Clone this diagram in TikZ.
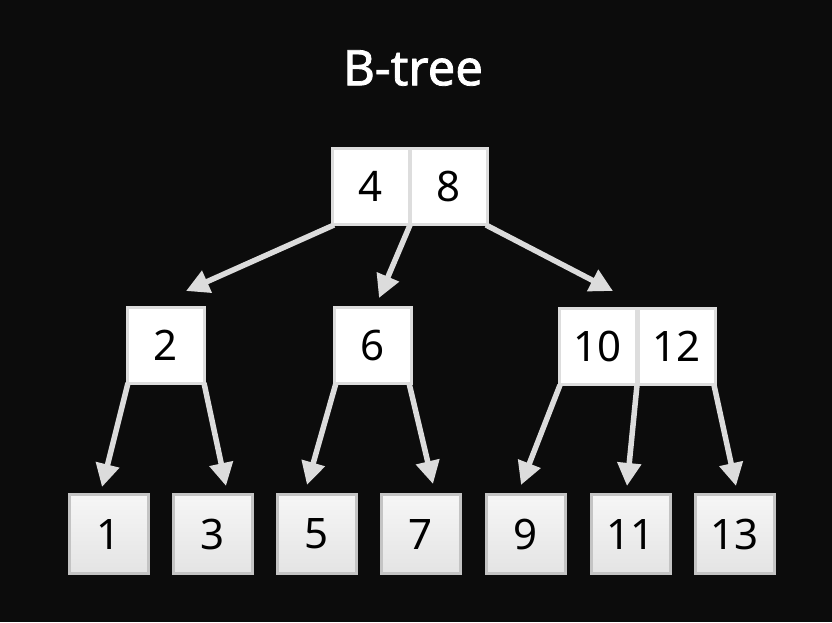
\documentclass[tikz,border=0pt]{standalone}
\usepackage{fontspec}
\setmainfont{Noto Sans}
\newfontfamily\titlefont{Noto Sans}[FakeBold=1.6]
\usetikzlibrary{arrows.meta}
\definecolor{bg}{HTML}{0C0C0C}
\definecolor{edge}{HTML}{DCDCDC}
\definecolor{ibord}{HTML}{DDDDDD}
\definecolor{lbord}{HTML}{C4C4C4}
\definecolor{ltop}{HTML}{F6F6F6}
\definecolor{lbot}{HTML}{E4E4E4}
\tikzset{
  inner/.style={draw=ibord, line width=3pt, fill=white, minimum width=77pt, minimum height=76pt, inner sep=0pt, font=\fontsize{42}{42}\selectfont, text=black},
  leaf/.style={draw=lbord, line width=3pt, top color=ltop, bottom color=lbot, minimum width=79pt, minimum height=79pt, inner sep=0pt, font=\fontsize{42}{42}\selectfont, text=black},
  link/.style={draw=edge, line width=5.5pt, -{Triangle[length=23pt,width=23pt]}},
  title/.style={text=white, font=\titlefont\fontsize{49}{49}\selectfont}
}
\begin{document}
\begin{tikzpicture}[x=1pt,y=-1pt]
\fill[bg] (0,0) rectangle (832,622);
\useasboundingbox (0,0) rectangle (832,622);
\node[title] (t) at (413,68) {B-tree};
% arrow tips
\coordinate (a1) at (186,291);
\coordinate (a2) at (379,298);
\coordinate (a3) at (613,291);
\coordinate (b1) at (102,487);
\coordinate (b2) at (226,486);
\coordinate (b3) at (307,485);
\coordinate (b4) at (433,484);
\coordinate (b5) at (521,485);
\coordinate (b6) at (627,486);
\coordinate (b7) at (736,486);
% anchor coordinates for edges (placed behind boxes)
\coordinate (r0) at (334,225);
\coordinate (r1) at (410,225);
\coordinate (r2) at (486,225);
\coordinate (p0) at (128,383);
\coordinate (p1) at (204,383);
\coordinate (q0) at (336,383);
\coordinate (q1) at (409,383);
\coordinate (s0) at (560,385);
\coordinate (s1) at (637,385);
\coordinate (s2) at (714,385);
\draw[link] (r0) -- (a1);
\draw[link] (r1) -- (a2);
\draw[link] (r2) -- (a3);
\draw[link] (p0) -- (b1);
\draw[link] (p1) -- (b2);
\draw[link] (q0) -- (b3);
\draw[link] (q1) -- (b4);
\draw[link] (s0) -- (b5);
\draw[link] (s1) -- (b6);
\draw[link] (s2) -- (b7);
% root
\node[inner] (k4) at (371,186.5) {4};
\node[inner] (k8) at (448.5,186.5) {8};
% level 2
\node[inner] (k2) at (166,345.5) {2};
\node[inner] (k6) at (372.5,345.5) {6};
\node[inner] (k10) at (597.5,346) {10};
\node[inner] (k12) at (676.5,346) {12};
% leaves
\node[leaf] (l1) at (108.5,534) {1};
\node[leaf] (l3) at (212.5,534) {3};
\node[leaf] (l5) at (317,534) {5};
\node[leaf] (l7) at (421,534) {7};
\node[leaf] (l9) at (526,534) {9};
\node[leaf] (l11) at (630.5,534) {11};
\node[leaf] (l13) at (734.5,534) {13};
\end{tikzpicture}
\end{document}
